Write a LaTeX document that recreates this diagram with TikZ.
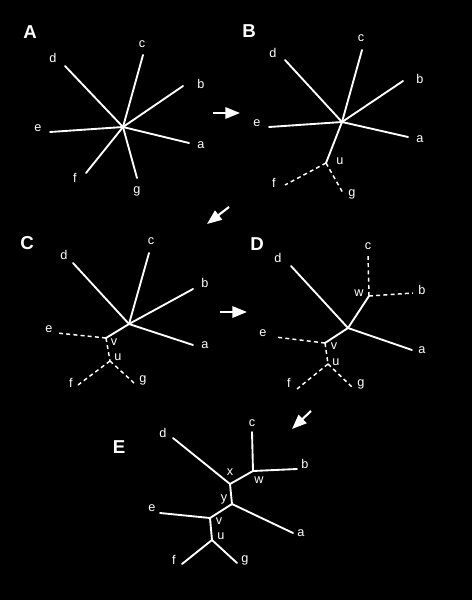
\documentclass[tikz,border=0pt]{standalone}
\usepackage{fontspec}
\setmainfont{Liberation Sans}
\usetikzlibrary{arrows.meta}
\begin{document}
\begin{tikzpicture}[x=0.75pt,y=-0.75pt,
  br/.style={draw=white,line width=1.4pt,line cap=round},
  dbr/.style={draw=white,line width=1.1pt,dash pattern=on 3pt off 2.4pt},
  lab/.style={text=white,inner sep=0pt,font=\fontsize{9.5}{10}\selectfont},
  panel/.style={text=white,inner sep=0pt,font=\fontsize{14}{15}\selectfont\bfseries},
  stage/.style={draw=white,fill=white,line width=1.6pt,-{Triangle[length=11pt,width=8.5pt]}}]
\fill[black] (0,0) rectangle (472,600);
\useasboundingbox (0,0) rectangle (472,600);
% ---------- A ----------
\node[panel] (LA) at (30,32) {A};
\coordinate (Ao) at (123,127);
\coordinate (Ad) at (65,66);  \node[lab] (Adl) at (53,58) {d};
\coordinate (Ac) at (143,55); \node[lab] (Acl) at (142,44) {c};
\coordinate (Ab) at (183,86); \node[lab] (Abl) at (201,84) {b};
\coordinate (Aa) at (189,143);\node[lab] (Aal) at (201,145) {a};
\coordinate (Ag) at (137,178);\node[lab] (Agl) at (137,191) {g};
\coordinate (Af) at (86,173); \node[lab] (Afl) at (75,178) {f};
\coordinate (Ae) at (50,132); \node[lab] (Ael) at (38,128) {e};
\foreach \t in {Ad,Ac,Ab,Aa,Ag,Af,Ae} \draw[br] (Ao) -- (\t);
% arrow A->B
\coordinate (A1) at (213,113); \coordinate (A2) at (240,113);
\draw[stage] (A1) -- (A2);
% ---------- B ----------
\node[panel] (LB) at (249,31) {B};
\coordinate (Bo) at (342,122);
\coordinate (Bd) at (285,60);  \node[lab] (Bdl) at (273,53) {d};
\coordinate (Bc) at (362,50);  \node[lab] (Bcl) at (361,38) {c};
\coordinate (Bb) at (403,81);  \node[lab] (Bbl) at (420,79) {b};
\coordinate (Ba) at (408,137); \node[lab] (Bal) at (420,139) {a};
\coordinate (Be) at (269,127); \node[lab] (Bel) at (257,123) {e};
\coordinate (Bu) at (326,163); \node[lab] (Bul) at (340,161) {u};
\coordinate (Bf) at (285,185); \node[lab] (Bfl) at (274,183) {f};
\coordinate (Bg) at (343,193); \node[lab] (Bgl) at (352,194) {g};
\foreach \t in {Bd,Bc,Bb,Ba,Be,Bu} \draw[br] (Bo) -- (\t);
\draw[dbr] (Bu) -- (Bf);
\draw[dbr] (Bu) -- (Bg);
% arrow B->C
\coordinate (B1) at (229,207); \coordinate (B2) at (207,224);
\draw[stage] (B1) -- (B2);
% ---------- C ----------
\node[panel] (LC) at (27,243) {C};
\coordinate (Co) at (129,324);
\coordinate (Cd) at (73,263);  \node[lab] (Cdl) at (64,255) {d};
\coordinate (Cc) at (149,253); \node[lab] (Ccl) at (151,241) {c};
\coordinate (Cb) at (193,289); \node[lab] (Cbl) at (205,283) {b};
\coordinate (Ca) at (193,345); \node[lab] (Cal) at (205,345) {a};
\coordinate (Cv) at (106,338); \node[lab] (Cvl) at (114,342) {v};
\coordinate (Ce) at (57,333);  \node[lab] (Cel) at (49,329) {e};
\coordinate (Cu) at (110,361); \node[lab] (Cul) at (118,357) {u};
\coordinate (Cf) at (78,385);  \node[lab] (Cfl) at (71,383) {f};
\coordinate (Cg) at (134,383); \node[lab] (Cgl) at (143,380) {g};
\foreach \t in {Cd,Cc,Cb,Ca,Cv} \draw[br] (Co) -- (\t);
\draw[dbr] (Cv) -- (Ce);
\draw[dbr] (Cv) -- (Cu);
\draw[dbr] (Cu) -- (Cf);
\draw[dbr] (Cu) -- (Cg);
% arrow C->D
\coordinate (C1) at (220,312); \coordinate (C2) at (247,312);
\draw[stage] (C1) -- (C2);
% ---------- D ----------
\node[panel] (LD) at (257,244) {D};
\coordinate (Do) at (348,328);
\coordinate (Dd) at (291,266); \node[lab] (Ddl) at (278,258) {d};
\coordinate (Dw) at (369,296); \node[lab] (Dwl) at (359,293) {w};
\coordinate (Dc) at (368,255); \node[lab] (Dcl) at (368,246) {c};
\coordinate (Db) at (413,293); \node[lab] (Dbl) at (422,290) {b};
\coordinate (Da) at (412,350); \node[lab] (Dal) at (422,350) {a};
\coordinate (Dv) at (325,343); \node[lab] (Dvl) at (334,346) {v};
\coordinate (De) at (275,337); \node[lab] (Del) at (263,333) {e};
\coordinate (Du) at (328,364); \node[lab] (Dul) at (336,362) {u};
\coordinate (Df) at (297,389); \node[lab] (Dfl) at (289,383) {f};
\coordinate (Dg) at (352,387); \node[lab] (Dgl) at (361,384) {g};
\foreach \t in {Dd,Dw,Da,Dv} \draw[br] (Do) -- (\t);
\draw[dbr] (Dw) -- (Dc);
\draw[dbr] (Dw) -- (Db);
\draw[dbr] (Dv) -- (De);
\draw[dbr] (Dv) -- (Du);
\draw[dbr] (Du) -- (Df);
\draw[dbr] (Du) -- (Dg);
% arrow D->E
\coordinate (D1) at (311,411); \coordinate (D2) at (292,429);
\draw[stage] (D1) -- (D2);
% ---------- E ----------
\node[panel] (LE) at (119,447) {E};
\coordinate (Ex) at (230,484); \node[lab] (Exl) at (230,472) {x};
\coordinate (Ed) at (173,438); \node[lab] (Edl) at (163,433) {d};
\coordinate (Ew) at (253,471); \node[lab] (Ewl) at (259,480) {w};
\coordinate (Ec) at (252,432); \node[lab] (Ecl) at (252,423) {c};
\coordinate (Eb) at (297,469); \node[lab] (Ebl) at (305,464) {b};
\coordinate (Ey) at (232,504); \node[lab] (Eyl) at (224,499) {y};
\coordinate (Ea) at (293,533); \node[lab] (Eal) at (301,533) {a};
\coordinate (Ev) at (210,518); \node[lab] (Evl) at (219,521) {v};
\coordinate (Ee) at (160,513); \node[lab] (Eel) at (152,508) {e};
\coordinate (Eu) at (212,540); \node[lab] (Eul) at (221,536) {u};
\coordinate (Ef) at (182,564); \node[lab] (Efl) at (174,560) {f};
\coordinate (Eg) at (237,563); \node[lab] (Egl) at (245,560) {g};
\draw[br] (Ex) -- (Ed);
\draw[br] (Ex) -- (Ew);
\draw[br] (Ew) -- (Ec);
\draw[br] (Ew) -- (Eb);
\draw[br] (Ex) -- (Ey);
\draw[br] (Ey) -- (Ea);
\draw[br] (Ey) -- (Ev);
\draw[br] (Ev) -- (Ee);
\draw[br] (Ev) -- (Eu);
\draw[br] (Eu) -- (Ef);
\draw[br] (Eu) -- (Eg);
\end{tikzpicture}
\end{document}
